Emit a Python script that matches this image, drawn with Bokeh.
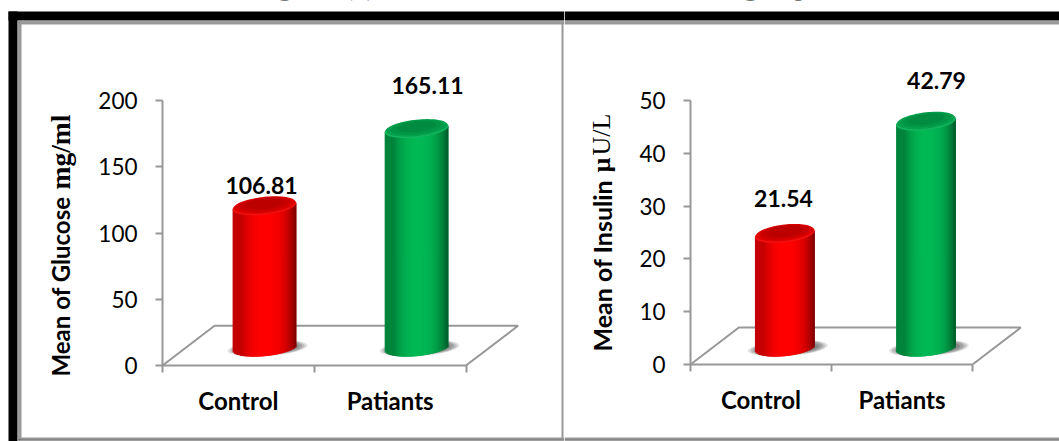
import math
import numpy as np
from bokeh.core.properties import value
from bokeh.embed import file_html
from bokeh.layouts import row
from bokeh.models import BoxAnnotation, FixedTicker, Label, LinearAxis, Range1d
from bokeh.plotting import figure
from bokeh.resources import INLINE

# Chart data
groups = ["Control", "Patiants"]
glucose_means = [106.81, 165.11]
insulin_means = [21.54, 42.79]
glucose_ticks = [0, 50, 100, 150, 200]
insulin_ticks = [0, 10, 20, 30, 40, 50]

RED = dict(mid=(255, 0, 0), left=(196, 0, 0), right=(128, 0, 0),
           rim="#f01010", cap=["#dc0000", "#c80000", "#bc0000"])
GREEN = dict(mid=(0, 184, 84), left=(0, 132, 60), right=(0, 92, 42),
             rim="#12b45e", cap=["#05a04e", "#009646", "#008c40"])
GREY = "#979797"
SANS = "Lato"
SERIF = "Liberation Serif"
HEIGHT = 441


def shade(c, u):
    """Colour across a cylinder, u running from -1 (left) to 1 (right)."""
    if u < 0:
        t = min(1.0, (-u / 0.72)) ** 2.2
        edge = c["left"]
    else:
        t = min(1.0, (u / 0.98)) ** 2.8
        edge = c["right"]
    rgb = [int(round(m + (e - m) * t)) for m, e in zip(c["mid"], edge)]
    return "#%02x%02x%02x" % tuple(rgb)


def cylinder(p, sx, sy, xc, val, lift, half_w, c):
    """Shaded cylinder built from thin vertical strips, standing `lift` above the axis."""
    ry = 8.5 / sy      # minor semi-axis of the end ellipses
    tilt = 3.2 / sy    # rise of an end ellipse across its half width
    # contact shadow under the base
    for scale, alpha in [(1.0, 0.2), (0.94, 0.3), (0.87, 0.4), (0.78, 0.5)]:
        p.ellipse([xc + 3 / sx], [lift - 0.5 / sy], width=2 * 40 * scale / sx,
                  height=2 * 7.8 * scale / sy, angle=math.radians(4),
                  fill_color="#707070", fill_alpha=alpha, line_color=None)
    n = 44
    edges = np.linspace(-1, 1, n + 1)
    mids = (edges[:-1] + edges[1:]) / 2
    colours = [shade(c, float(u)) for u in mids]
    # each strip runs a little under its right neighbour so no seams appear
    right_edges = np.minimum(edges[1:] + 2 / n, 1.0)
    p.quad(left=xc + edges[:-1] * half_w, right=xc + right_edges * half_w,
           top=val + lift + mids * tilt,
           bottom=lift + mids * tilt - ry * np.sqrt(1 - mids ** 2),
           fill_color=colours, line_color=None)
    # top face: bright front rim, darker towards the back
    t = np.linspace(0, 2 * np.pi, 73)
    for colour, k, shift in zip([c["rim"]] + c["cap"], [1.0, 0.96, 0.82, 0.62], [0, 1.2, 1.8, 2.4]):
        p.patch(xc + half_w * k * np.cos(t),
                val + lift + tilt * k * np.cos(t) + ry * k * np.sin(t) + shift / sy,
                fill_color=colour, line_color=None)


def panel(width, frame_left, frame_bottom, sx, sy, means, ticks, depth_x, depth_y, lift,
          half_w, bar_x, value_pos, tick_size, value_size, group_size):
    # the frame fills the whole canvas; the axes sit at data zero inside it
    p = figure(width=width, height=HEIGHT, output_backend="svg", toolbar_location=None,
               x_axis_location=None, y_axis_location=None,
               min_border_left=0, min_border_right=0, min_border_top=0, min_border_bottom=0,
               x_range=Range1d(-frame_left / sx, (width - frame_left) / sx),
               y_range=Range1d(-(HEIGHT - frame_bottom) / sy, frame_bottom / sy),
               background_fill_color="white", border_fill_color="white")
    p.outline_line_color = None
    p.grid.visible = False

    # page coordinates to data coordinates, for annotations placed on the page
    p._dx = lambda px: (px - frame_left) / sx
    p._dy = lambda py: (frame_bottom - py) / sy

    ya = LinearAxis(ticker=FixedTicker(ticks=ticks), bounds=(ticks[0], ticks[-1]), fixed_location=0)
    ya.axis_line_color = GREY
    ya.axis_line_width = 2
    ya.major_tick_line_color = GREY
    ya.major_tick_line_width = 2
    ya.major_tick_out = 7
    ya.major_tick_in = 0
    ya.minor_tick_out = 0
    ya.minor_tick_in = 0
    ya.major_label_text_font = SANS
    ya.major_label_text_font_size = tick_size
    ya.major_label_text_color = "#000000"
    ya.major_label_standoff = 18
    p.add_layout(ya, "left")

    xa = LinearAxis(ticker=FixedTicker(ticks=[0.5, 1.5], minor_ticks=[0, 1, 2]), bounds=(0, 2),
                    major_label_overrides={0.5: groups[0], 1.5: groups[1]}, fixed_location=0)
    xa.axis_line_color = GREY
    xa.axis_line_width = 2
    xa.major_tick_in = 0
    xa.major_tick_out = 0
    xa.minor_tick_line_color = GREY
    xa.minor_tick_line_width = 2
    xa.minor_tick_in = 0
    xa.minor_tick_out = 7
    xa.major_label_text_font = SANS
    xa.major_label_text_font_style = "bold"
    xa.major_label_text_font_size = group_size
    xa.major_label_text_color = "#000000"
    xa.major_label_standoff = 13
    p.add_layout(xa, "below")

    # floor of the 3-D plot area
    p.line([0, depth_x, 2 + depth_x, 2], [0, depth_y, depth_y, 0], line_color=GREY, line_width=2)

    for x, v, c in zip(bar_x, means, [RED, GREEN]):
        cylinder(p, sx, sy, x, v, lift, half_w, c)

    p.text([p._dx(a) for a, _ in value_pos], [p._dy(b) for _, b in value_pos],
           text=[f"{v:.2f}" for v in means], text_font=value(SANS), text_font_style="bold",
           text_font_size=value_size, text_align="center", text_baseline="middle", text_color="#000000")
    return p


def frame_box(p, left, right, top, bottom, colour):
    p.add_layout(BoxAnnotation(left=left, right=right, top=top, bottom=bottom,
                               left_units="canvas", right_units="canvas",
                               top_units="canvas", bottom_units="canvas",
                               fill_color=colour, fill_alpha=1, line_color=None, level="overlay"))


def y_title(p, x, y, text, font, size, style="bold"):
    p.add_layout(Label(x=p._dx(x), y=p._dy(y), text=text, angle=math.pi / 2, text_font=font,
                       text_font_size=size, text_font_style=style, text_align="left",
                       text_baseline="middle", text_color="#000000"))


left = panel(564, 162, 365, 151.75, 264.8 / 200, glucose_means, glucose_ticks,
             0.343, 30.0, 13.5, 0.21, [0.672, 1.674],
             [(261, 185), (427, 85)], "22.5px", "23px", "24px")
right = panel(495, 126, 364, 141.0, 264.0 / 50, insulin_means, insulin_ticks,
              0.343, 7.0, 3.2, 0.212, [0.669, 1.67],
              [(783 - 564, 198), (936 - 564, 80)], "22.5px", "23px", "24px")

# page frame: heavy black rule, thin dark rule, grey inner rule
for box, colour in [((8, 17, 11, 441), "#000000"), ((8, 564, 11, 20), "#000000"),
                    ((18, 19, 21, 440), "#404040"), ((18, 564, 21, 22), "#404040"),
                    ((19, 21, 22, 439), GREY), ((19, 564, 22, 24), GREY),
                    ((19, 564, 437, 439), GREY), ((18, 564, 439, 440), "#404040"),
                    ((561, 563, 22, 439), GREY)]:
    frame_box(left, box[0], box[1], box[2], box[3], colour)
for box, colour in [((0, 495, 11, 20), "#000000"), ((0, 495, 21, 22), "#404040"),
                    ((0, 495, 22, 24), GREY), ((0, 495, 437, 439), GREY),
                    ((0, 495, 439, 440), "#404040")]:
    frame_box(right, box[0], box[1], box[2], box[3], colour)

# vertical titles mix a sans name with a serif unit
y_title(left, 60, 376, "Mean of Glucose", SANS, "24px")
y_title(left, 60, 189, "mg/ml", SERIF, "27.5px")
y_title(right, 601 - 564, 351, "Mean of Insulin", SANS, "25px")
y_title(right, 601 - 564, 172, "\u00b5", SERIF, "26px")
y_title(right, 601 - 564, 155, "U/L", SERIF, "26px", "normal")

# caption running above the frame, cut by the page edge
for fig, x, text in [(left, 254, "Figure"), (left, 343, "(1)"), (right, 743 - 564, "groups")]:
    fig.add_layout(Label(x=fig._dx(x), y=fig._dy(-15), text=text, text_font=SERIF, text_font_size="28px",
                         text_baseline="alphabetic", text_align="left", text_color="#000000"))

page = row(left, right, spacing=0)
open("out.html", "w").write(file_html(page, INLINE))
